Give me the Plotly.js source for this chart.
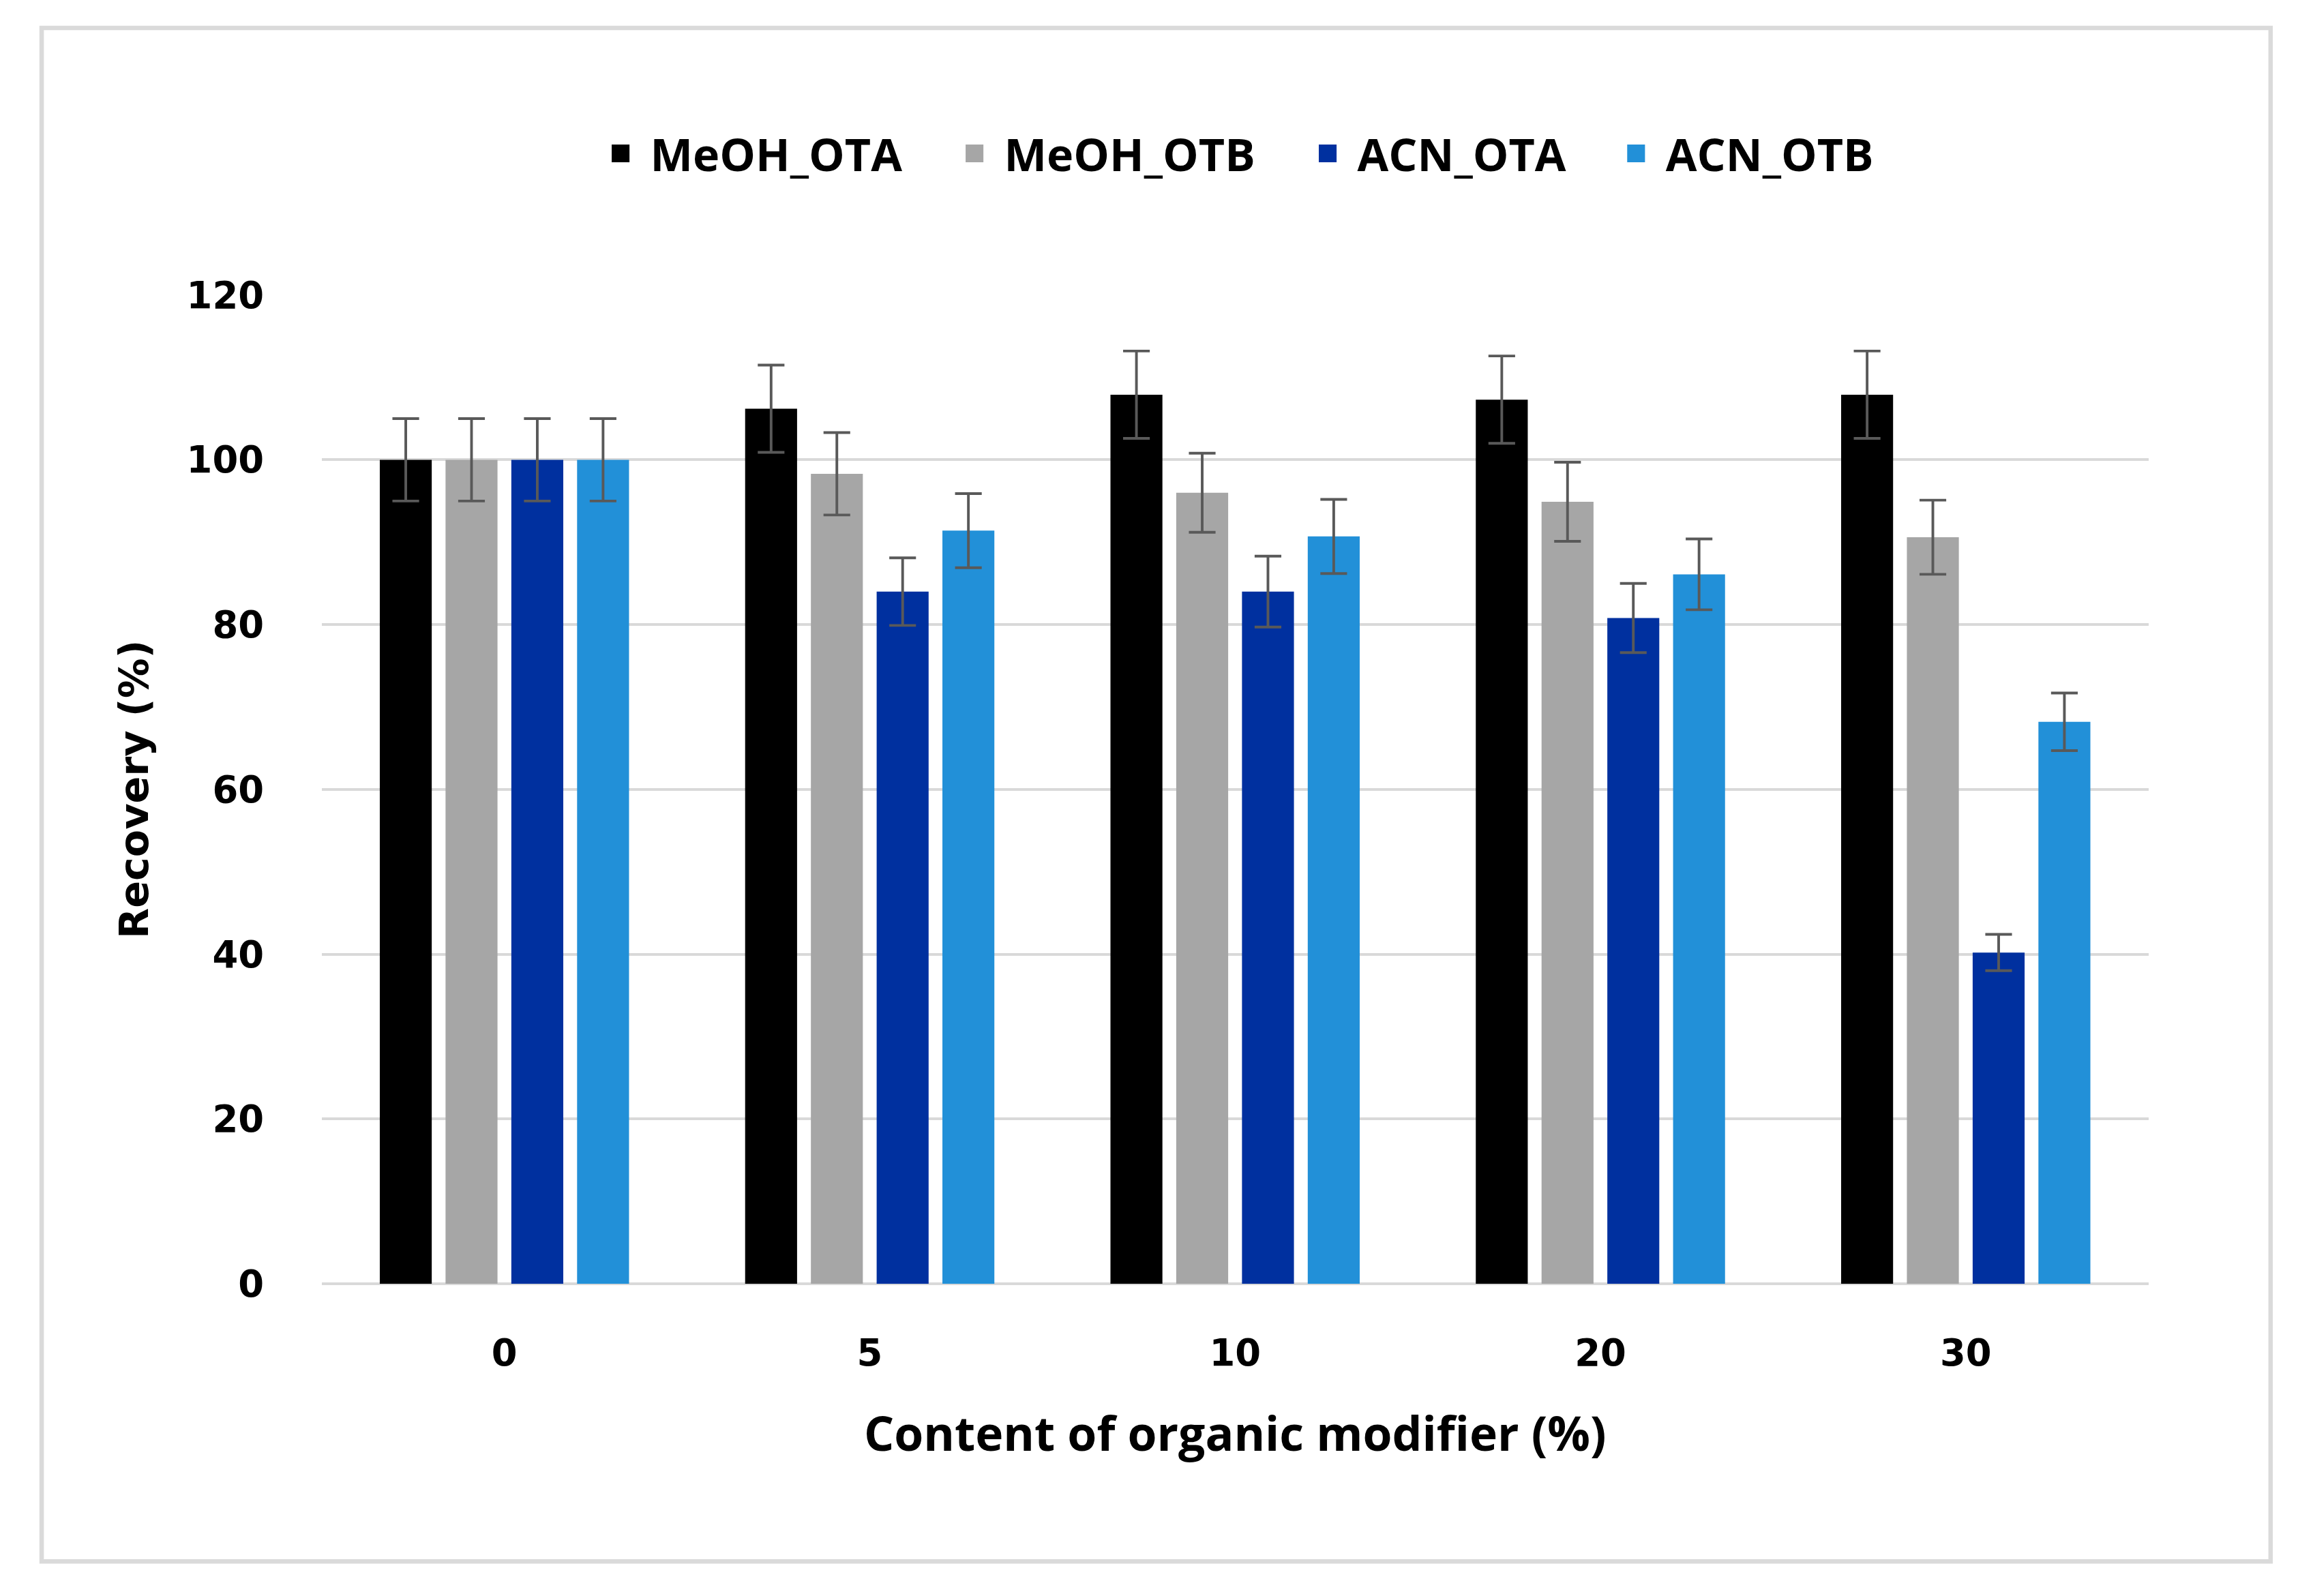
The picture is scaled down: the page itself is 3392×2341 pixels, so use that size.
<!DOCTYPE html>
<html>
<head>
<meta charset="utf-8">
<script src="https://cdn.plot.ly/plotly-3.0.1.min.js"></script>
<style>
  html, body { margin: 0; padding: 0; background: #ffffff; overflow: hidden; }
  #wrap { width: 3392px; height: 2341px; position: relative; overflow: hidden; }
  #chart { width: 1560px; height: 1077px; transform: scale(2.174359); transform-origin: 0 0; position: absolute; left: 0; top: 0; }
</style>
</head>
<body>
<div id="wrap"><div id="chart"></div></div>
<script>
// ---- data ----
const categories = ['0', '5', '10', '20', '30'];

const meohOTA    = [100, 106.2, 107.9, 107.3, 107.9];
const meohOTAerr = [5.0, 5.3, 5.3, 5.3, 5.3];

const meohOTB    = [100, 98.3, 96.0, 94.9, 90.6];
const meohOTBerr = [5.0, 5.0, 4.8, 4.8, 4.5];

const acnOTA     = [100, 84.0, 84.0, 80.8, 40.2];
const acnOTAerr  = [5.0, 4.1, 4.3, 4.2, 2.2];

const acnOTB     = [100, 91.4, 90.7, 86.1, 68.2];
const acnOTBerr  = [5.0, 4.5, 4.5, 4.3, 3.5];

const seriesNames = ['MeOH_OTA', 'MeOH_OTB', 'ACN_OTA', 'ACN_OTB'];
const seriesColors = ['#000000', '#A6A6A6', '#00309F', '#2290D8'];
const yTickVals = [0, 20, 40, 60, 80, 100, 120];

// legend entry widths (px, layout units) to reproduce the reference spacing
const legendWidths = [193.7, 193.2, 163, 165];

const values = [meohOTA, meohOTB, acnOTA, acnOTB];
const errors = [meohOTAerr, meohOTBerr, acnOTAerr, acnOTBerr];

const traces = values.map((v, i) => ({
  type: 'bar',
  name: seriesNames[i],
  x: categories,
  y: v,
  legendwidth: legendWidths[i],
  marker: { color: seriesColors[i], line: { width: 0 } },
  error_y: { type: 'data', array: errors[i], visible: true, color: '#595959', thickness: 1.8, width: 9 }
}));

const layout = {
  width: 1560,
  height: 1077,
  autosize: false,
  paper_bgcolor: '#ffffff',
  plot_bgcolor: '#ffffff',
  margin: { l: 217.3, r: 110.8, t: 198.5, b: 210.6, pad: 0 },
  barmode: 'group',
  bargap: 0.28,
  bargroupgap: 0.21,
  font: { family: 'DejaVu Sans', color: '#000000' },
  showlegend: true,
  legend: {
    orientation: 'h',
    x: 0.5106, xanchor: 'center',
    y: 1.143, yanchor: 'middle',
    font: { family: 'Open Sans', size: 30.5, color: '#000000', weight: 'bold' },
    itemwidth: 30,
    bgcolor: 'rgba(0,0,0,0)'
  },
  xaxis: {
    type: 'category',
    categoryorder: 'array',
    categoryarray: categories,
    showgrid: false,
    showline: false,
    zeroline: false,
    ticks: '',
    ticklabelstandoff: 29,
    tickfont: { family: 'DejaVu Sans', size: 25, color: '#000000', weight: 'bold' },
    title: { text: 'Content of organic modifier (%)', font: { family: 'Open Sans', size: 32, color: '#000000', weight: 'bold' }, standoff: 30 }
  },
  yaxis: {
    range: [0, 120],
    tickvals: yTickVals,
    ticktext: yTickVals.map(String),
    showgrid: true,
    gridcolor: '#D9D9D9',
    gridwidth: 1.8,
    zeroline: true,
    zerolinecolor: '#D9D9D9',
    zerolinewidth: 1.8,
    showline: false,
    ticks: '',
    ticklabelstandoff: 38,
    tickfont: { family: 'DejaVu Sans', size: 25, color: '#000000', weight: 'bold' },
    title: { text: 'Recovery (%)', font: { family: 'DejaVu Sans', size: 27, color: '#000000', weight: 'bold' }, standoff: 17 }
  },
  shapes: [{
    type: 'rect', xref: 'paper', yref: 'paper',
    x0: -0.15334, x1: 1.06689, y0: -0.28088, y1: 1.27010,
    line: { color: '#DADADA', width: 3 },
    fillcolor: 'rgba(0,0,0,0)',
    layer: 'below'
  }]
};

Plotly.newPlot('chart', traces, layout, { displayModeBar: false, staticPlot: true });
</script>
</body>
</html>
